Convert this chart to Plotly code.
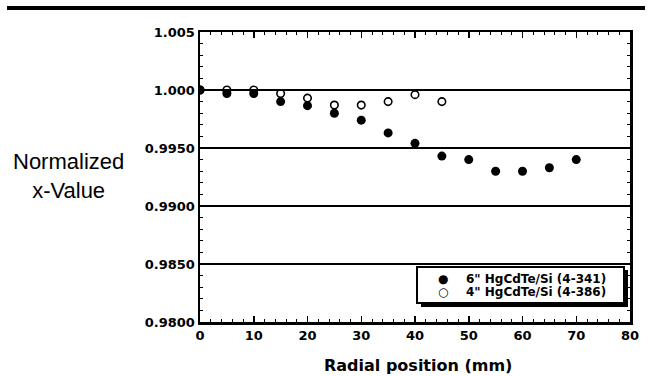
import plotly.graph_objects as go

x6 = [0, 5, 10, 15, 20, 25, 30, 35, 40, 45, 50, 55, 60, 65, 70]
y6 = [1.0000, 0.9997, 0.9997, 0.9990, 0.99865, 0.9980, 0.9974, 0.9963, 0.9954, 0.9943, 0.9940, 0.9930, 0.9930, 0.9933, 0.9940]
x4 = [0, 5, 10, 15, 20, 25, 30, 35, 40, 45]
y4 = [1.0000, 1.0000, 1.0000, 0.9997, 0.9993, 0.9987, 0.9987, 0.9990, 0.9996, 0.9990]
name6 = '6" HgCdTe/Si (4-341)'
name4 = '4" HgCdTe/Si (4-386)'
ytickvals = [0.980, 0.985, 0.990, 0.995, 1.000, 1.005]
yticktext = ["0.9800", "0.9850", "0.9900", "0.9950", "1.000", "1.005"]
xtickvals = [0, 10, 20, 30, 40, 50, 60, 70, 80]
xtitle = "Radial position (mm)"
ytitle = "Normalized<br>x-Value"

BOLD = "DejaVu Sans"
REG = "Liberation Sans"

fig = go.Figure()
fig.add_trace(go.Scatter(x=x4, y=y4, mode="markers", name=name4, showlegend=False, hoverinfo="skip",
                         marker=dict(symbol="circle-open", size=7.5, color="black", line=dict(width=1.6))))
fig.add_trace(go.Scatter(x=x6, y=y6, mode="markers", name=name6, showlegend=False, hoverinfo="skip",
                         marker=dict(symbol="circle", size=9, color="black")))

W, H = 649, 376
L, R, T, B = 200, 19, 32, 54
pw, ph = W - L - R, H - T - B

def px2x(p):
    return (p - L) / pw

def px2y(p):
    return (H - B - p) / ph

shapes = [
    # top black bar
    dict(type="rect", xref="paper", yref="paper", x0=px2x(7), x1=px2x(645), y0=px2y(10), y1=px2y(6),
         fillcolor="black", line=dict(width=0), layer="above"),
    # legend shadow
    dict(type="rect", xref="paper", yref="paper", x0=px2x(421), x1=px2x(628), y0=px2y(307), y1=px2y(270),
         fillcolor="black", line=dict(width=0), layer="above"),
    # legend box
    dict(type="rect", xref="paper", yref="paper", x0=px2x(417), x1=px2x(624), y0=px2y(303), y1=px2y(267),
         fillcolor="white", line=dict(color="black", width=2), layer="above"),
]

legend_font = dict(family=BOLD, size=12, color="black", weight="bold")
annotations = [
    dict(text=ytitle, xref="paper", yref="paper", x=px2x(68), y=px2y(176),
         xanchor="center", yanchor="middle", showarrow=False,
         font=dict(family=REG, size=22, color="black")),
    dict(text=xtitle, xref="paper", yref="paper", x=px2x(418), y=px2y(365),
         xanchor="center", yanchor="middle", showarrow=False,
         font=dict(family=BOLD, size=16, color="black", weight="bold")),
    dict(text="●", xref="paper", yref="paper", x=px2x(443), y=px2y(279), xanchor="center", yanchor="middle",
         showarrow=False, font=dict(family=BOLD, size=12, color="black")),
    dict(text="○", xref="paper", yref="paper", x=px2x(443), y=px2y(292), xanchor="center", yanchor="middle",
         showarrow=False, font=dict(family=BOLD, size=12, color="black")),
    dict(text=name6, xref="paper", yref="paper", x=px2x(464), y=px2y(279), xanchor="left", yanchor="middle",
         showarrow=False, font=legend_font),
    dict(text=name4, xref="paper", yref="paper", x=px2x(464), y=px2y(292), xanchor="left", yanchor="middle",
         showarrow=False, font=legend_font),
]

fig.update_layout(
    width=W, height=H,
    margin=dict(l=L, r=R, t=T, b=B, autoexpand=False),
    paper_bgcolor="white", plot_bgcolor="white",
    font=dict(family=BOLD, color="black"),
    showlegend=False,
    hovermode=False,
    shapes=shapes,
    annotations=annotations,
)

fig.update_xaxes(
    range=[0, 80], tickvals=xtickvals, ticks="inside", ticklen=6, tickwidth=1.5, tickcolor="black",
    showline=True, linecolor="black", linewidth=2.5, mirror="ticks", showgrid=False, zeroline=False,
    automargin=False,
    tickfont=dict(family=BOLD, size=13, color="black", weight="bold"),
    minor=dict(dtick=2, ticks="inside", ticklen=3, tickwidth=1, tickcolor="black"),
)
fig.update_yaxes(
    range=[0.980, 1.005], tickvals=ytickvals, ticktext=yticktext, ticks="inside", ticklen=6, tickwidth=1.5,
    tickcolor="black", automargin=False,
    showline=True, linecolor="black", linewidth=2.5, mirror="ticks",
    showgrid=True, gridcolor="black", gridwidth=1.8, zeroline=False,
    tickfont=dict(family=BOLD, size=13, color="black", weight="bold"),
    minor=dict(dtick=0.001, ticks="inside", ticklen=3, tickwidth=1, tickcolor="black", showgrid=False),
)

fig.write_html("out.html", config={"displayModeBar": False, "staticPlot": True},
               post_script="document.body.style.margin='0px';")
